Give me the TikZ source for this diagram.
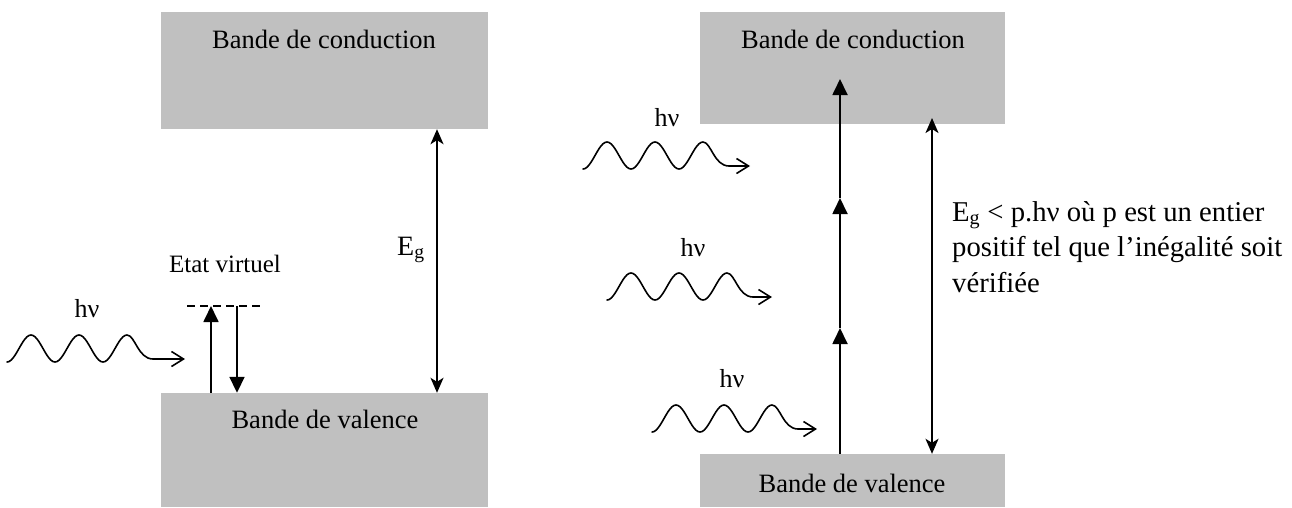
\documentclass[tikz,border=0pt]{standalone}
\usepackage{fontspec}
\setmainfont{Liberation Serif}
\usetikzlibrary{arrows.meta}
\definecolor{bandgray}{RGB}{192,192,192}
\tikzset{
  band/.style={fill=bandgray, draw=none, inner sep=0pt},
  bandlabel/.style={anchor=base, inner sep=0pt, font=\fontsize{26.5}{30}\selectfont},
  hvlabel/.style={anchor=base, inner sep=0pt, font=\fontsize{26}{30}\selectfont},
  wave/.style={line width=1.6pt, line cap=round, line join=round, -{Straight Barb[length=12pt,width=15pt,line width=1.6pt]}},
  trans/.style={line width=1.8pt, -{Triangle[length=16pt,width=15pt]}},
  gap/.style={line width=1.8pt, {Stealth[length=15pt,width=13pt,inset=4pt]}-{Stealth[length=15pt,width=13pt,inset=4pt]}},
  virt/.style={line width=1.6pt, dash pattern=on 8pt off 5pt},
  photon/.pic={\draw[wave] plot[domain=0:120,samples=61,smooth] (\x,{-13.5*(1-cos(\x*7.5))})
      .. controls (128,-27) and (131,-3) .. (146,-3) -- (#1,-3);}
}
\begin{document}
\begin{tikzpicture}[x=1pt,y=-1pt]
\useasboundingbox (0,0) rectangle (1292,507);
% ---------- left diagram ----------
\node[band, minimum width=327pt, minimum height=117pt] (lcb) at (324.5,70.5) {};
\node[band, minimum width=327pt, minimum height=114pt] (lvb) at (324.5,450) {};
\node[bandlabel] (lcbt) at (324,48) {Bande de conduction};
\node[bandlabel] (lvbt) at (325,428) {Bande de valence};
\coordinate (egl) at (437,0);
\draw[gap] (lcb.south -| egl) -- (lvb.north -| egl);
\node[anchor=base west, inner sep=0pt, font=\fontsize{28}{30}\selectfont] (eglab) at (397,255) {E\textsubscript{g}};
\node[anchor=base, inner sep=0pt, font=\fontsize{25}{28}\selectfont] (etat) at (225,272) {Etat virtuel};
\coordinate (dl) at (187,306);
\coordinate (dr) at (263,306);
\draw[virt] (dl) -- (dr);
\coordinate (vup) at (211,306);
\coordinate (vdn) at (237,306);
\draw[trans] (lvb.north -| vup) -- (vup);
\draw[trans] (vdn) -- (lvb.north -| vdn);
\node[hvlabel] (hv0) at (87,317) {hν};
\pic (w0) at (7,362) {photon=178};
% ---------- right diagram ----------
\node[band, minimum width=305pt, minimum height=112pt] (rcb) at (852.5,68) {};
\node[band, minimum width=305pt, minimum height=53pt] (rvb) at (852.5,480.5) {};
\node[bandlabel] (rcbt) at (853,48) {Bande de conduction};
\node[bandlabel] (rvbt) at (852,492) {Bande de valence};
\coordinate (r1) at (840,328);
\coordinate (r2) at (840,198);
\coordinate (r3) at (840,79);
\draw[trans] (rvb.north -| r1) -- (r1);
\draw[trans] (r1) -- (r2);
\draw[trans] (r2) -- (r3);
\coordinate (egrt) at (932,118);
\draw[gap] (egrt) -- (rvb.north -| egrt);
\node[hvlabel] (hv1) at (667,126) {hν};
\node[hvlabel] (hv2) at (693,256) {hν};
\node[hvlabel] (hv3) at (732,387) {hν};
\pic (w1) at (583,169) {photon=167};
\pic (w2) at (607,300) {photon=165};
\pic (w3) at (652,432) {photon=165};
\node[anchor=north west, inner sep=0pt, align=left, font=\fontsize{28.7}{35.5}\selectfont] (cond) at (952,201)
  {E\textsubscript{g} < p.hν où p est un entier\\positif tel que l’inégalité soit\\vérifiée};
\end{tikzpicture}
\end{document}
